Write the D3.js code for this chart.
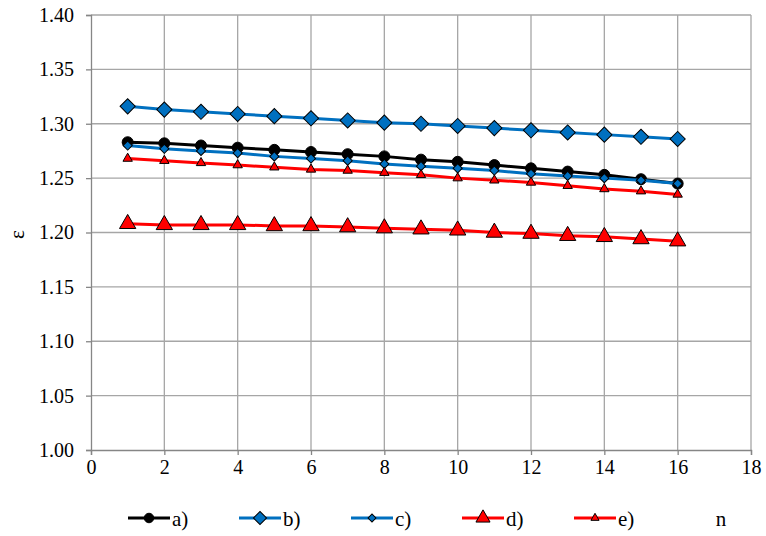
<!DOCTYPE html>
<html>
<head>
<meta charset="utf-8">
<script src="https://cdn.jsdelivr.net/npm/d3@7"></script>
<style>
  body { margin: 0; background: #fff; }
</style>
</head>
<body>
<div id="chart"></div>
<script>
const n = [1, 2, 3, 4, 5, 6, 7, 8, 9, 10, 11, 12, 13, 14, 15, 16];
const seriesA = [1.283, 1.282, 1.280, 1.278, 1.276, 1.274, 1.272, 1.270, 1.267, 1.265, 1.262, 1.259, 1.256, 1.253, 1.249, 1.245];
const seriesB = [1.316, 1.313, 1.311, 1.309, 1.307, 1.305, 1.303, 1.301, 1.300, 1.298, 1.296, 1.294, 1.292, 1.290, 1.288, 1.286];
const seriesC = [1.280, 1.277, 1.275, 1.273, 1.270, 1.268, 1.266, 1.263, 1.261, 1.259, 1.257, 1.254, 1.252, 1.250, 1.248, 1.245];
const seriesD = [1.208, 1.207, 1.207, 1.207, 1.206, 1.206, 1.205, 1.204, 1.203, 1.202, 1.200, 1.199, 1.197, 1.196, 1.194, 1.192];
const seriesE = [1.268, 1.266, 1.264, 1.262, 1.260, 1.258, 1.257, 1.255, 1.253, 1.250, 1.248, 1.246, 1.243, 1.240, 1.238, 1.235];
const xTicks = [0, 2, 4, 6, 8, 10, 12, 14, 16, 18];
const yTicks = [1.00, 1.05, 1.10, 1.15, 1.20, 1.25, 1.30, 1.35, 1.40];
const labels = ['a)', 'b)', 'c)', 'd)', 'e)'];

const BLACK = '#000000';
const BLUE = '#0070c0';
const RED = '#ff0000';
const FONT = 'Liberation Serif';

// diamond = square turned 45 degrees
const series = [
  { label: labels[0], values: seriesA, color: BLACK, shape: d3.symbolCircle, size: 95, rot: 0 },
  { label: labels[1], values: seriesB, color: BLUE, shape: d3.symbolSquare, size: 115, rot: 45 },
  { label: labels[2], values: seriesC, color: BLUE, shape: d3.symbolSquare, size: 42, rot: 45 },
  { label: labels[3], values: seriesD, color: RED, shape: d3.symbolTriangle, size: 115, rot: 0 },
  { label: labels[4], values: seriesE, color: RED, shape: d3.symbolTriangle, size: 38, rot: 0 },
];

const width = 766, height = 536;
const plotLeft = 91, plotRight = 751, plotTop = 15, plotBottom = 450;

const svg = d3.select('#chart').append('svg')
  .attr('width', width)
  .attr('height', height);

const x = d3.scaleLinear().domain([0, 18]).range([plotLeft, plotRight]);
const y = d3.scaleLinear().domain([1.0, 1.4]).range([plotBottom, plotTop]);

// grid
svg.append('g').selectAll('line')
  .data(xTicks.slice(1))
  .enter().append('line')
  .attr('x1', (d) => x(d)).attr('x2', (d) => x(d))
  .attr('y1', plotTop).attr('y2', plotBottom)
  .attr('stroke', '#a6a6a6').attr('stroke-width', 1.3);
svg.append('g').selectAll('line')
  .data(yTicks.slice(1))
  .enter().append('line')
  .attr('x1', plotLeft).attr('x2', plotRight)
  .attr('y1', (d) => y(d)).attr('y2', (d) => y(d))
  .attr('stroke', '#a6a6a6').attr('stroke-width', 1.3);

// axes
let xAxis = svg.append('g')
  .attr('transform', `translate(0,${plotBottom})`)
  .call(d3.axisBottom(x).tickValues(xTicks).tickFormat(d3.format('d')).tickSize(5).tickPadding(5));
let yAxis = svg.append('g')
  .attr('transform', `translate(${plotLeft},0)`)
  .call(d3.axisLeft(y).tickValues(yTicks).tickFormat(d3.format('.2f')).tickSize(5).tickPadding(12));
[xAxis, yAxis].forEach((ax) => {
  ax.attr('font-family', null).attr('font-size', null);
  ax.select('.domain').attr('stroke', '#868686').attr('stroke-width', 1.3);
  ax.selectAll('.tick line').attr('stroke', '#868686').attr('stroke-width', 1.3);
  ax.selectAll('text')
    .attr('font-family', FONT)
    .attr('font-size', 20)
    .attr('fill', '#000');
});

// axis titles
svg.append('text')
  .attr('transform', `translate(24,${(plotTop + plotBottom) / 2 + 2}) rotate(-90)`)
  .attr('text-anchor', 'middle')
  .attr('font-family', FONT)
  .attr('font-size', 21)
  .text('ε');
svg.append('text')
  .attr('x', 721).attr('y', 526)
  .attr('text-anchor', 'middle')
  .attr('font-family', FONT)
  .attr('font-size', 21)
  .text('n');

// series
let line = d3.line()
  .x((d, i) => x(n[i]))
  .y((d) => y(d));

series.forEach((s) => {
  let g = svg.append('g');
  g.append('path')
    .datum(s.values)
    .attr('d', line)
    .attr('fill', 'none')
    .attr('stroke', s.color)
    .attr('stroke-width', 3);
  g.selectAll('path.mark')
    .data(s.values)
    .enter().append('path')
    .attr('class', 'mark')
    .attr('transform', (d, i) => `translate(${x(n[i])},${y(d)}) rotate(${s.rot})`)
    .attr('d', d3.symbol().type(s.shape).size(s.size))
    .attr('fill', s.color)
    .attr('stroke', '#000')
    .attr('stroke-width', 1);
});

// legend
const legendX = [128, 239, 351, 462, 574];
const legendY = 518;
series.forEach((s, i) => {
  let g = svg.append('g')
    .attr('transform', `translate(${legendX[i]},${legendY})`);
  g.append('line')
    .attr('x1', 0).attr('x2', 42)
    .attr('stroke', s.color)
    .attr('stroke-width', 3);
  g.append('path')
    .attr('transform', `translate(21,0) rotate(${s.rot})`)
    .attr('d', d3.symbol().type(s.shape).size(s.size * 0.75))
    .attr('fill', s.color)
    .attr('stroke', '#000');
  g.append('text')
    .attr('x', 44).attr('y', 8)
    .attr('font-family', FONT)
    .attr('font-size', 21)
    .text(s.label);
});
</script>
</body>
</html>
